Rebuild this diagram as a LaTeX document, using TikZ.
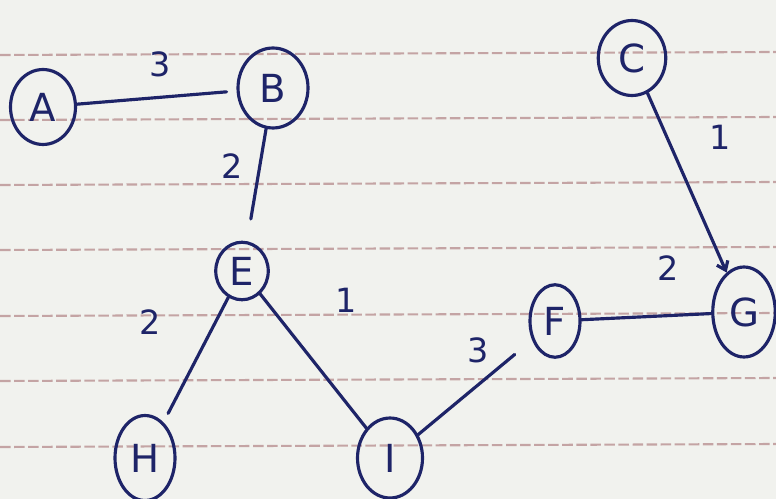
\documentclass[tikz,border=0pt]{standalone}
\usepackage{fontspec}
\setmainfont{DejaVu Sans}
\usepackage{xcolor}
\definecolor{cInk}{HTML}{1E2468}
\definecolor{cPaper}{HTML}{F1F2EE}
\definecolor{cRule}{HTML}{C4A4A4}
\usetikzlibrary{positioning,arrows.meta,shapes.geometric}
\tikzset{
  node-vertex/.style={draw=cInk,line width=1.8pt,ellipse,inner sep=0pt,
    text=cInk,font=\fontsize{22}{26}\selectfont},
  edge-line/.style={draw=cInk,line width=1.8pt,line cap=round},
  edge-weight/.style={text=cInk,inner sep=0pt,font=\fontsize{19}{22}\selectfont},
  rule-line/.style={draw=cRule,line width=1.2pt,dash pattern=on 6pt off 2pt},
}

\begin{document}
\begin{tikzpicture}[x=0.02cm,y=-0.02cm]
  \fill[cPaper] (0,0) rectangle (776,499);
  \useasboundingbox (0,0) rectangle (776,499);
  % ruled paper
  \foreach \yy in {55,120,185,250,316,381,447}
    \draw[rule-line] (0,\yy) -- (776,\yy-3);

  \node[node-vertex,minimum width=1.3cm,minimum height=1.5cm] (A) at (43,107) {A};
  \node[node-vertex,minimum width=1.4cm,minimum height=1.6cm] (B) at (273,88) {B};
  \node[node-vertex,minimum width=1.35cm,minimum height=1.5cm] (C) at (632,58) {C};
  \node[node-vertex,minimum width=1.05cm,minimum height=1.15cm] (E) at (242,271) {E};
  \node[node-vertex,minimum width=1.0cm,minimum height=1.45cm] (F) at (555,321) {F};
  \node[node-vertex,minimum width=1.25cm,minimum height=1.8cm] (G) at (744,312) {G};
  \node[node-vertex,minimum width=1.2cm,minimum height=1.7cm] (H) at (145,458) {H};
  \node[node-vertex,minimum width=1.3cm,minimum height=1.6cm] (I) at (390,458) {I};

  \draw[edge-line,shorten >=0.2cm] (A) -- (B);
  \draw[edge-line,shorten >=0.45cm] (B) -- (E);
  \draw[edge-line,-{Straight Barb[length=1.6mm,width=2.4mm]}] (C) -- (G);
  \draw[edge-line,shorten >=0.2cm] (E) -- (H);
  \draw[edge-line] (E) -- (I);
  \draw[edge-line,shorten >=0.45cm] (I) -- (F);
  \draw[edge-line] (F) -- (G);

  \node[edge-weight] (w-ab) at (160,64) {3};
  \node[edge-weight] (w-be) at (232,166) {2};
  \node[edge-weight] (w-cg) at (720,137) {1};
  \node[edge-weight] (w-eh) at (150,322) {2};
  \node[edge-weight] (w-ei) at (346,300) {1};
  \node[edge-weight] (w-if) at (478,350) {3};
  \node[edge-weight] (w-fg) at (668,268) {2};
\end{tikzpicture}
\end{document}
